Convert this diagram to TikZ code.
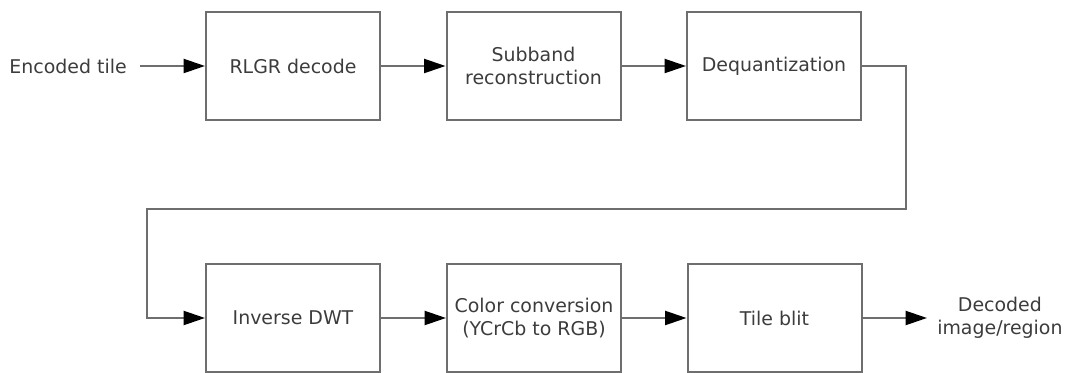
\documentclass[tikz,border=0pt]{standalone}
\usepackage{fontspec}
\setmainfont{DejaVu Sans}
\usepackage{tikz}
\usetikzlibrary{arrows.meta}
\usetikzlibrary{positioning}
\definecolor{linegray}{HTML}{6E6E6E}
\definecolor{textgray}{HTML}{3C3C3C}
\tikzset{stage/.style={draw=linegray,
                       line width=1.5pt,
                       minimum width=130.5pt,
                       minimum height=81pt,
                       align=center,
                       text=textgray,
                       font=\fontsize{14.2}{17.3}\selectfont}}
\tikzset{flow/.style={draw=linegray,
                      line width=1.5pt,
                      -{Triangle[length=16pt,width=10.5pt,color=black]}}}

\begin{document}
\begin{tikzpicture}
    [
      x=0.75pt, y=-0.75pt,
      io/.style = {text=textgray, align=center, inner ysep=0pt,
                   font=\fontsize{14.2}{17.3}\selectfont},
    ]
    \useasboundingbox (0,0) rectangle (1065,373);

    % stages
    \foreach \n/\x/\y/\t in {rlgr/293/66/{RLGR decode},
                             subband/533.5/66/{Subband\\reconstruction},
                             dequant/774/66/{Dequantization},
                             idwt/293/318/{Inverse DWT},
                             color/534/318/{Color conversion\\(YCrCb to RGB)},
                             blit/774.5/318/{Tile blit}}
      \node [stage] (\n) at (\x,\y) {\t};

    % input and output
    \node [io, anchor=east, inner xsep=9.75pt] (input) at (140,66) {Encoded tile};
    \node [io, anchor=west, inner xsep=7.5pt] (output) at (927,318) {Decoded\\image/region};

    % top row
    \draw [flow] (input.east) -- (rlgr.west);
    \draw [flow] (rlgr.east) -- (subband.west);
    \draw [flow] (subband.east) -- (dequant.west);

    % return to second row
    \coordinate (turnR) at (906,209);
    \coordinate (turnL) at (147,209);
    \draw [flow] (dequant.east) -| (turnR) -- (turnL) |- (idwt.west);

    % bottom row
    \draw [flow] (idwt.east) -- (color.west);
    \draw [flow] (color.east) -- (blit.west);
    \draw [flow] (blit.east) -- (output.west);

  \end{tikzpicture}
\end{document}
